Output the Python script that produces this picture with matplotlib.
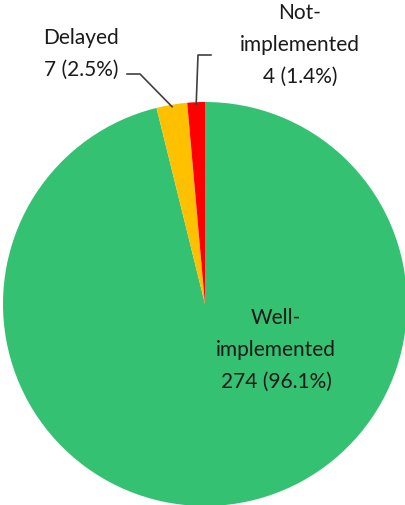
import numpy as np
import matplotlib.pyplot as plt

categories = ["Well-\nimplemented", "Delayed", "Not-\nimplemented"]
counts = [274, 7, 4]
colors = ["#35C172", "#FFC000", "#FF0000"]

W, H = 406, 505
fig = plt.figure(figsize=(W / 100, H / 100), dpi=100)
ax = fig.add_axes([0, 0, 1, 1])

cx, cy, r = 205, H - 304, 202
wedges, _ = ax.pie(counts, colors=colors, startangle=90, counterclock=False,
                   center=(cx, cy), radius=r, frame=True,
                   wedgeprops=dict(linewidth=0))
ax.set_xlim(0, W)
ax.set_ylim(0, H)
ax.set_aspect("equal")
ax.axis("off")

total = sum(counts)
labels = [f"{c}\n{n} ({n / total * 100:.1f}%)" for c, n in zip(categories, counts)]
font = dict(fontsize=15, family="Lato", color="#1a1a1a", linespacing=1.75)

# Well-implemented label inside the slice
ax.text(276, H - 350, labels[0], ha="center", va="center", **font)
# Delayed and Not-implemented labels outside, with leader lines
ax.text(81, H - 54, labels[1], ha="center", va="center", **font)
ax.text(300, H - 45, labels[2], ha="center", va="center", **font)

def edge_point(w, frac=1.0):
    a = np.deg2rad((w.theta1 + w.theta2) / 2)
    return cx + r * frac * np.cos(a), cy + r * frac * np.sin(a)

x1, y1 = edge_point(wedges[1], 0.99)
ax.plot([127, 140, x1], [H - 74, H - 74, y1], color="#404040", lw=1.2)
x2, y2 = edge_point(wedges[2], 0.99)
ax.plot([211, 198, x2], [H - 55, H - 55, y2], color="#404040", lw=1.2)

fig.savefig("out.png", dpi=100)
